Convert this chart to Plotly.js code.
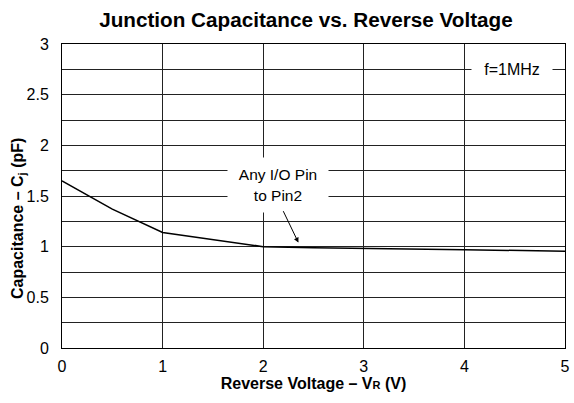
<!DOCTYPE html>
<html><head><meta charset="utf-8">
<script src="https://cdn.plot.ly/plotly-3.0.1.min.js"></script>
<style>html,body{margin:0;padding:0;background:#fff;}#chart{width:574px;height:403px;}</style>
</head><body><div id="chart"></div>
<script>
const voltage = [0, 0.5, 1, 2, 2.5, 3, 4, 5];
const capacitance = [1.65, 1.37, 1.14, 1.0, 0.99, 0.985, 0.97, 0.955];
const xTicks = [0, 1, 2, 3, 4, 5];
const yTicks = [0, 0.5, 1, 1.5, 2, 2.5, 3];
const yTickText = ['0', '0.5', '1', '1.5', '2', '2.5', '3'];

const font = 'Liberation Sans, Arial, sans-serif';
const trace = {
  x: voltage, y: capacitance, type: 'scatter', mode: 'lines',
  line: {color: '#000', width: 1.5}, hoverinfo: 'skip'
};
const layout = {
  width: 574, height: 403,
  margin: {l: 62, r: 9, t: 44, b: 55},
  paper_bgcolor: '#fff', plot_bgcolor: '#fff',
  showlegend: false,
  font: {family: font, color: '#000', size: 16},
  title: {text: '<b>Junction Capacitance vs. Reverse Voltage</b>', xref: 'container', x: 0.533, xanchor: 'center', yref: 'container', y: 0.95, yanchor: 'middle', font: {size: 20.7, family: font, color: '#000'}},
  xaxis: {
    range: [0, 5], tickvals: xTicks, ticktext: xTicks.map(String),
    showgrid: true, gridcolor: '#222', gridwidth: 1,
    showline: true, linecolor: '#000', linewidth: 1, mirror: true,
    zeroline: false, ticks: '', ticklabelstandoff: 4,
    tickfont: {size: 16, family: font},
    title: {text: '<b>Reverse Voltage – V<span style="font-size:11px">R</span> (V)</b>', font: {size: 16, family: font}, standoff: 0}
  },
  yaxis: {
    range: [0, 3], tickvals: yTicks, ticktext: yTickText,
    showgrid: true, gridcolor: '#222', gridwidth: 1,
    minor: {dtick: 0.25, tick0: 0, showgrid: true, gridcolor: '#222', gridwidth: 1},
    showline: true, linecolor: '#000', linewidth: 1, mirror: true,
    zeroline: false, ticks: '', ticklabelstandoff: 9,
    tickfont: {size: 16, family: font},
    title: {text: ''}
  },
  annotations: [
    {xref: 'paper', yref: 'y', x: 0, y: 1.273, xshift: -44, textangle: -90,
     text: '<b>Capacitance – C<sub>j</sub> (pF)</b>', showarrow: false,
     font: {size: 16, family: font}, xanchor: 'center', yanchor: 'middle'},
    {x: 4.47, y: 2.75, xref: 'x', yref: 'y', text: 'f=1MHz', showarrow: false,
     bgcolor: '#fff', borderpad: 0, font: {size: 16, family: font}, width: 80, height: 16},
    {x: 2.147, y: 1.61, xref: 'x', yref: 'y',
     text: 'Any I/O Pin<br>to Pin2', showarrow: false, bgcolor: '#fff', borderpad: 0,
     width: 100, height: 54, font: {size: 15.5, family: font}},
    {x: 2.35, y: 1.04, xref: 'x', yref: 'y', ax: 2.19, ay: 1.37, axref: 'x', ayref: 'y',
     text: ' ', showarrow: true, arrowhead: 2, arrowsize: 1, arrowwidth: 1,
     arrowcolor: '#000', standoff: 0, font: {size: 1}}
  ]
};
Plotly.newPlot('chart', [trace], layout, {displayModeBar: false, staticPlot: true});
</script></body></html>
